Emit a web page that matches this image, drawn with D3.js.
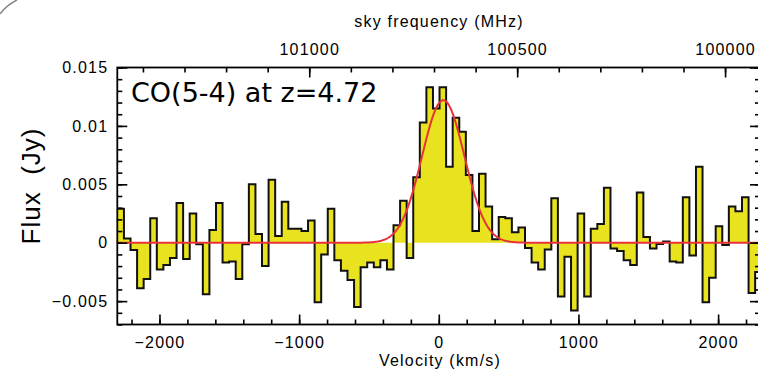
<!DOCTYPE html>
<html>
<head>
<meta charset="utf-8">
<script src="https://cdn.jsdelivr.net/npm/d3@7"></script>
<style>
  body { margin: 0; background: #fff; }
  svg { display: block; }
</style>
</head>
<body>
<svg id="chart"></svg>
<script>
// spectrum channels: first channel centre and channel width (km/s)
const chanStart = -2278;
const chanWidth = 47.08;
const flux = [
   0.0029,  0.00037, -0.00063, -0.0039, -0.0031,  0.0021, -0.0023, -0.0019, -0.0013,  0.0034,
  -0.0014,  0.0025, -0.00014, -0.0044,  0.0011,  0.0034, -0.0017, -0.0016, -0.0031, -0.00014,
   0.0050,  0.00074, -0.0020,  0.0054,  0.00057, 0.0035,  0.0012,  0.0012,  0.0010,  0.0019,
  -0.0051, -0.0010,  0.0029, -0.0015, -0.0024, -0.0032, -0.0055, -0.0021, -0.0017, -0.0021,
  -0.0015, -0.0023,  0.0015,  0.0036, -0.0013,  0.0056,  0.0103,  0.0133,  0.0115,  0.0133,
   0.0065,  0.0107,  0.0095,  0.0058,  0.0010,  0.0059,  0.0031,  0.0003,  0.0022,  0.0021,
   0.0009,  0.0013, -0.00046, -0.0017, -0.0023, -0.00057, 0.0038, -0.0046, -0.0012, -0.0058,
   0.0025, -0.0046,  0.0012,  0.0016,  0.0047, -0.0005, -0.0007, -0.0015, -0.0019,  0.0043,
   0.0005, -0.0005, -0.0001,  0.0001, -0.0016, -0.0017,  0.0039, -0.0011,  0.0065, -0.0051,
  -0.0030,  0.0014, -0.0002,  0.0031,  0.0027,  0.0039, -0.0043, -0.0025
];

// gaussian fit: peak (Jy), centre (km/s), FWHM (km/s)
const fitPeak = 0.0122;
const fitCentre = 32;
const fitFwhm = 358;

// observed frequency at v = 0 (MHz)
const restFreq = 100688.5;
const lightSpeed = 299792.458;

const velDomain = [-2302, 2300];
const fluxDomain = [-0.007, 0.015];

const velTicks = [-2000, -1000, 0, 1000, 2000];
const velTickLabels = ["\u22122000", "\u22121000", "0", "1000", "2000"];
const fluxTicks = [-0.005, 0, 0.005, 0.01, 0.015];
const fluxTickLabels = ["\u22120.005", "0", "0.005", "0.01", "0.015"];
const freqTicks = [100000, 100500, 101000];
const freqTickLabels = ["100000", "100500", "101000"];

const title = "CO(5-4) at z=4.72";
const xLabel = "Velocity (km/s)";
const topLabel = "sky frequency (MHz)";
const yLabel = "Flux  (Jy)";

const W = 758, H = 369;
const plot = {left: 117.3, right: 760, top: 67.5, bottom: 324.5};

const svg = d3.select("#chart").attr("width", W).attr("height", H);

const x = d3.scaleLinear().domain(velDomain).range([plot.left, plot.right]);
const y = d3.scaleLinear().domain(fluxDomain).range([plot.bottom, plot.top]);
const toFreq = v => restFreq * (1 - v / lightSpeed);
const xf = d3.scaleLinear().domain(velDomain.map(toFreq)).range([plot.left, plot.right]);

svg.append("defs").append("clipPath").attr("id", "clip")
  .append("rect")
  .attr("x", plot.left).attr("y", plot.top)
  .attr("width", plot.right - plot.left).attr("height", plot.bottom - plot.top);

// step points from channel edges
const steps = flux.map((f, i) => ({v: chanStart - chanWidth / 2 + i * chanWidth, f}));
steps.push({v: chanStart - chanWidth / 2 + flux.length * chanWidth, f: flux[flux.length - 1]});

const g = svg.append("g").attr("clip-path", "url(#clip)");

g.append("path")
  .datum(steps)
  .attr("fill", "#e8e31e")
  .attr("d", d3.area().curve(d3.curveStepAfter)
    .x(d => x(d.v)).y0(y(0)).y1(d => y(d.f)));

g.append("path")
  .datum(steps)
  .attr("fill", "none")
  .attr("stroke", "#111")
  .attr("stroke-width", 2)
  .attr("d", d3.line().curve(d3.curveStepAfter)
    .x(d => x(d.v)).y(d => y(d.f)));

// gaussian model
const sigma = fitFwhm / 2.3548;
const model = d3.range(velDomain[0], velDomain[1] + 1, 5)
  .map(v => ({v, f: fitPeak * Math.exp(-0.5 * ((v - fitCentre) / sigma) ** 2)}));

g.append("path")
  .datum(model)
  .attr("fill", "none")
  .attr("stroke", "#e8323a")
  .attr("stroke-width", 2)
  .attr("d", d3.line().x(d => x(d.v)).y(d => y(d.f)));

// frame
svg.append("rect")
  .attr("x", plot.left).attr("y", plot.top)
  .attr("width", plot.right - plot.left).attr("height", plot.bottom - plot.top)
  .attr("fill", "none").attr("stroke", "#000").attr("stroke-width", 1.8);

const styleAxis = sel => {
  sel.select(".domain").remove();
  sel.selectAll(".tick line").attr("stroke", "#000").attr("stroke-width", 1.6);
  sel.selectAll("text")
    .attr("font-family", "'Liberation Sans', Arial, sans-serif")
    .attr("font-size", 16)
    .attr("letter-spacing", 1.2)
    .attr("fill", "#000");
};

const fmt = (ticks, labels) => d => labels[ticks.indexOf(d)];

// bottom
svg.append("g").attr("transform", `translate(0,${plot.bottom})`)
  .call(d3.axisBottom(x).tickValues(d3.range(-2200, 2300, 200)).tickSizeInner(-5).tickFormat(""))
  .call(styleAxis);
svg.append("g").attr("transform", `translate(0,${plot.bottom})`)
  .call(d3.axisBottom(x).tickValues(velTicks).tickSizeInner(-10).tickPadding(12)
    .tickFormat(fmt(velTicks, velTickLabels)))
  .call(styleAxis);

// top
svg.append("g").attr("transform", `translate(0,${plot.top})`)
  .call(d3.axisTop(xf).tickValues(d3.range(99900, 101500, 100)).tickSizeInner(-5).tickFormat(""))
  .call(styleAxis);
svg.append("g").attr("transform", `translate(0,${plot.top})`)
  .call(d3.axisTop(xf).tickValues(freqTicks).tickSizeInner(-10).tickPadding(13)
    .tickFormat(fmt(freqTicks, freqTickLabels)))
  .call(styleAxis);

// left
svg.append("g").attr("transform", `translate(${plot.left},0)`)
  .call(d3.axisLeft(y).tickValues(d3.range(-7, 16, 1).map(d => d / 1000)).tickSizeInner(-5).tickFormat(""))
  .call(styleAxis);
svg.append("g").attr("transform", `translate(${plot.left},0)`)
  .call(d3.axisLeft(y).tickValues(fluxTicks).tickSizeInner(-10).tickPadding(9)
    .tickFormat(fmt(fluxTicks, fluxTickLabels)))
  .call(styleAxis);

// right
svg.append("g").attr("transform", `translate(${plot.right},0)`)
  .call(d3.axisRight(y).tickValues(d3.range(-7, 16, 1).map(d => d / 1000)).tickSizeInner(-5).tickFormat(""))
  .call(styleAxis);
svg.append("g").attr("transform", `translate(${plot.right},0)`)
  .call(d3.axisRight(y).tickValues(fluxTicks).tickSizeInner(-10).tickFormat(""))
  .call(styleAxis);

// labels
svg.append("text")
  .attr("x", 131).attr("y", 102)
  .attr("font-family", "'DejaVu Sans', Verdana, sans-serif")
  .attr("font-size", 27)
  .text(title);

svg.append("text")
  .attr("x", 439).attr("y", 27)
  .attr("text-anchor", "middle")
  .attr("font-family", "'Liberation Sans', Arial, sans-serif")
  .attr("font-size", 16).attr("letter-spacing", 1.2)
  .text(topLabel);

svg.append("text")
  .attr("x", 440).attr("y", 366)
  .attr("text-anchor", "middle")
  .attr("font-family", "'Liberation Sans', Arial, sans-serif")
  .attr("font-size", 16).attr("letter-spacing", 1.2)
  .text(xLabel);

svg.append("text")
  .attr("transform", "translate(40,186) rotate(-90)")
  .attr("text-anchor", "middle")
  .attr("font-family", "'Liberation Sans', Arial, sans-serif")
  .attr("font-size", 26).attr("letter-spacing", 1)
  .attr("xml:space", "preserve")
  .style("white-space", "pre")
  .text(yLabel);

// rounded page corner
svg.append("path")
  .attr("d", "M0,14 A46,46 0 0 1 17,0")
  .attr("fill", "none")
  .attr("stroke", "#8a8a8a")
  .attr("stroke-width", 1.5);
</script>
</body>
</html>
